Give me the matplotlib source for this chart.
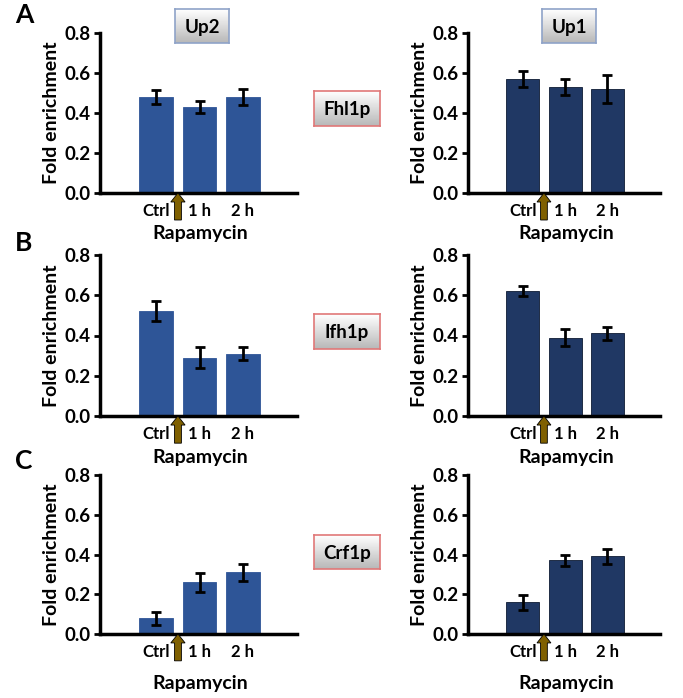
import numpy as np
import matplotlib.pyplot as plt
from matplotlib.patches import FancyArrow

plt.rcParams['font.family'] = ['Lato', 'DejaVu Sans']
plt.rcParams['font.weight'] = 'bold'

# time points after rapamycin
conditions = ['Ctrl', '1 h', '2 h']

# fold enrichment values and errors, rows A/B/C, columns Up2/Up1
up2_fhl1 = [0.48, 0.43, 0.48]
up2_fhl1_err = [0.034, 0.03, 0.04]
up1_fhl1 = [0.57, 0.53, 0.52]
up1_fhl1_err = [0.042, 0.038, 0.07]

up2_ifh1 = [0.52, 0.29, 0.31]
up2_ifh1_err = [0.05, 0.052, 0.032]
up1_ifh1 = [0.62, 0.39, 0.41]
up1_ifh1_err = [0.025, 0.04, 0.03]

up2_crf1 = [0.08, 0.26, 0.31]
up2_crf1_err = [0.033, 0.047, 0.042]
up1_crf1 = [0.16, 0.37, 0.39]
up1_crf1_err = [0.037, 0.03, 0.038]

yticks = [0.0, 0.2, 0.4, 0.6, 0.8]
row_letters = ['A', 'B', 'C']
proteins = ['Fhl1p', 'Ifh1p', 'Crf1p']
promoters = ['Up2', 'Up1']

W, H = 683, 698
fig = plt.figure(figsize=(W / 100, H / 100), dpi=100)
fig.patch.set_facecolor('white')

# axes boxes in pixels: (x_left, x_right, y_top, y_bottom)
cols = [(100, 297, '#2E5597', '#2E5597'), (468, 660, '#203864', '#0d1a33')]
rows = [(33, 193, 233), (255, 416, 458), (475, 634, 683)]

data = [[(up2_fhl1, up2_fhl1_err), (up1_fhl1, up1_fhl1_err)],
        [(up2_ifh1, up2_ifh1_err), (up1_ifh1, up1_ifh1_err)],
        [(up2_crf1, up2_crf1_err), (up1_crf1, up1_crf1_err)]]

x = np.arange(1, len(conditions) + 1)

for r, (yt, yb, ylab) in enumerate(rows):
    for c, (xl, xr, color, edge) in enumerate(cols):
        ax = fig.add_axes([xl / W, 1 - yb / H, (xr - xl) / W, (yb - yt) / H])
        vals, errs = data[r][c]
        ax.bar(x, vals, width=0.78, color=color, edgecolor=edge, linewidth=0.6)
        ax.errorbar(x, vals, yerr=errs, fmt='none', ecolor='black',
                    elinewidth=2, capsize=3.5, capthick=2)
        ax.set_xlim(-0.3, 4.25)
        ax.set_ylim(0, 0.8)
        ax.set_yticks(yticks)
        ax.set_yticklabels(['%.1f' % t for t in yticks], fontsize=13.5, fontweight='bold')
        ax.set_xticks(x)
        ax.set_xticklabels(conditions, fontsize=12, fontweight='bold')
        ax.tick_params(axis='x', length=0, pad=7)
        ax.tick_params(axis='y', direction='out', length=4, width=2, pad=3)
        for s in ['top', 'right']:
            ax.spines[s].set_visible(False)
        for s in ['left', 'bottom']:
            ax.spines[s].set_linewidth(2.5)
        ax.set_ylabel('Fold enrichment', fontsize=14, fontweight='bold', labelpad=3)
        # rapamycin addition arrow between Ctrl and 1 h
        arrow = FancyArrow(1.5, -0.135, 0, 0.135, width=0.16, head_width=0.33,
                           head_length=0.045, length_includes_head=True,
                           facecolor='#7F6000', edgecolor='black', linewidth=0.6,
                           clip_on=False, zorder=5)
        ax.add_patch(arrow)
        fig.text(((xl + xr) / 2 + 2) / W, 1 - ylab / H, 'Rapamycin', ha='center',
                 va='center', fontsize=14, fontweight='bold')

# panel letters
for letter, yy in zip(row_letters, [15, 243, 461]):
    fig.text(24 / W, 1 - yy / H, letter, ha='center', va='center',
             fontsize=19, fontweight='bold')

# gradient for the label boxes (white top, grey bottom)
grad = np.linspace(1.0, 0.72, 64).reshape(-1, 1)


def label_box(x0, x1, y0, y1, text, edge):
    bax = fig.add_axes([x0 / W, 1 - y1 / H, (x1 - x0) / W, (y1 - y0) / H])
    bax.imshow(grad, cmap='gray', vmin=0, vmax=1, aspect='auto',
               extent=[0, 1, 0, 1], origin='upper')
    bax.set_xlim(0, 1)
    bax.set_ylim(0, 1)
    bax.set_xticks([])
    bax.set_yticks([])
    for s in bax.spines.values():
        s.set_edgecolor(edge)
        s.set_linewidth(1.2)
    bax.text(0.5, 0.47, text, ha='center', va='center', fontsize=13.5,
             fontweight='bold', transform=bax.transAxes)


# promoter boxes above top row
for name, (bx0, bx1) in zip(promoters, [(175, 229), (542, 596)]):
    label_box(bx0, bx1, 9, 43, name, '#8FA3C8')

# protein boxes in the middle
for name, (by0, by1) in zip(proteins, [(91, 126), (314, 349), (535, 569)]):
    label_box(314, 380, by0, by1, name, '#E07878')

fig.savefig('out.png', dpi=100)
